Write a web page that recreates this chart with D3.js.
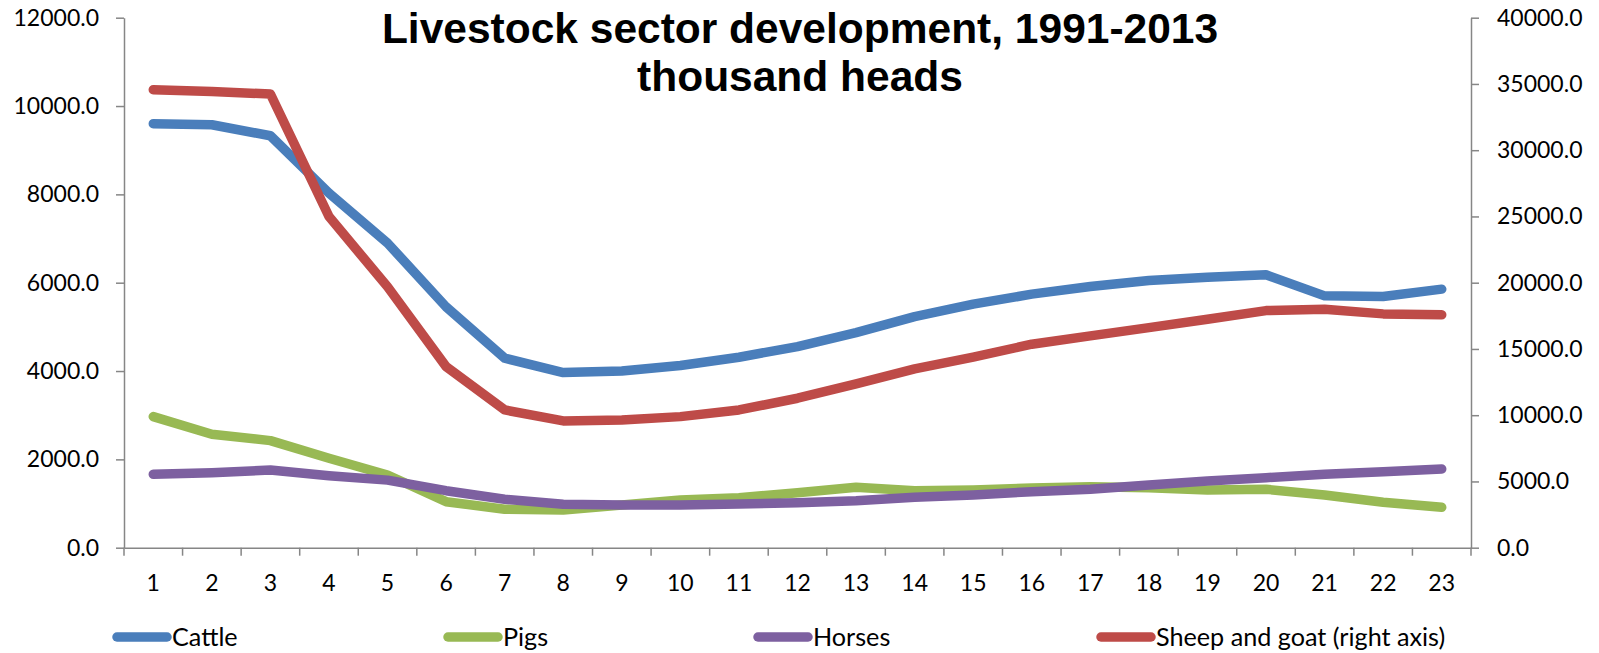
<!DOCTYPE html>
<html>
<head>
<meta charset="utf-8">
<script src="https://cdn.jsdelivr.net/npm/d3@7/dist/d3.min.js"></script>
<style>
  html, body { margin: 0; padding: 0; background: #fff; }
  svg { display: block; }
  .tick text, .legend text { font-family: Lato, "Open Sans", sans-serif; fill: #000; }
</style>
</head>
<body>
<svg id="chart" width="1599" height="653"></svg>
<script>
// Year index 1..23 (1991-2013)
const categories = d3.range(1, 24).map(String);

// Livestock numbers, thousand heads
const cattle = [9599, 9576, 9327, 8029, 6896, 5453, 4291, 3965, 4003, 4124, 4313, 4554,
                4871, 5233, 5514, 5741, 5913, 6049, 6126, 6178, 5702, 5687, 5854];
const pigs = [2968, 2569, 2424, 2025, 1647, 1042, 870, 854, 967, 1081, 1133, 1246,
              1368, 1291, 1307, 1352, 1382, 1359, 1307, 1323, 1194, 1028, 915];
const horses = [1663, 1699, 1760, 1631, 1530, 1291, 1096, 983, 967, 967, 990, 1020,
                1065, 1142, 1194, 1269, 1323, 1420, 1511, 1586, 1663, 1722, 1783];
const sheepGoat = [34562, 34433, 34237, 24995, 19690, 13668, 10398, 9567, 9643, 9892, 10398, 11281,
                   12361, 13494, 14377, 15359, 15986, 16613, 17246, 17896, 18002, 17647, 17572];

const seriesNames = ["Cattle", "Pigs", "Horses", "Sheep and goat (right axis)"];
const seriesColors = ["#4A7EBB", "#98B954", "#7D60A0", "#BE4B48"];

const leftTicks = [0, 2000, 4000, 6000, 8000, 10000, 12000];
const rightTicks = [0, 5000, 10000, 15000, 20000, 25000, 30000, 35000, 40000];

const svg = d3.select("#chart");
const plot = { left: 124, right: 1471, top: 17.7, bottom: 547.7 };

const x = d3.scaleBand().domain(categories).range([plot.left, plot.right]).padding(0);
const yL = d3.scaleLinear().domain([0, 12000]).range([plot.bottom, plot.top]);
const yR = d3.scaleLinear().domain([0, 40000]).range([plot.bottom, plot.top]);
const fmt = d3.format(".1f");

function styleAxis(g) {
  g.selectAll(".domain, .tick line").attr("stroke", "#868686").attr("stroke-width", 1.5);
  g.selectAll(".tick text").attr("font-size", 23);
}

// Left axis
svg.append("g")
  .attr("transform", `translate(${plot.left},0)`)
  .call(d3.axisLeft(yL).tickValues(leftTicks).tickFormat(fmt).tickSizeInner(8).tickSizeOuter(0).tickPadding(17))
  .call(styleAxis);

// Right axis
svg.append("g")
  .attr("transform", `translate(${plot.right},0)`)
  .call(d3.axisRight(yR).tickValues(rightTicks).tickFormat(fmt).tickSizeInner(8).tickSizeOuter(0).tickPadding(18))
  .call(styleAxis);

// Category axis: labels at band centres, tick marks on band boundaries
const xAxis = svg.append("g")
  .attr("transform", `translate(0,${plot.bottom})`)
  .call(d3.axisBottom(x).tickSize(0).tickPadding(27))
  .call(styleAxis);

const boundaries = categories.map(c => x(c)).concat([x(categories[categories.length - 1]) + x.bandwidth()]);
xAxis.selectAll("line.sep")
  .data(boundaries)
  .join("line")
  .attr("class", "sep")
  .attr("x1", d => d).attr("x2", d => d)
  .attr("y1", 0).attr("y2", 8)
  .attr("stroke", "#868686").attr("stroke-width", 1.5);

// Series lines
const cx = (d, i) => x(categories[i]) + x.bandwidth() / 2;
const series = [
  { values: cattle, y: yL },
  { values: pigs, y: yL },
  { values: horses, y: yL },
  { values: sheepGoat, y: yR }
];
series.forEach((s, k) => {
  const line = d3.line().x(cx).y(d => s.y(d));
  svg.append("path")
    .datum(s.values)
    .attr("d", line)
    .attr("fill", "none")
    .attr("stroke", seriesColors[k])
    .attr("stroke-width", 9.5)
    .attr("stroke-linejoin", "round")
    .attr("stroke-linecap", "round");
});

// Title
const title = svg.append("text")
  .attr("x", 800)
  .attr("text-anchor", "middle")
  .attr("font-family", "'Liberation Sans', Arial, sans-serif")
  .attr("font-weight", "bold")
  .attr("font-size", 42.5)
  .attr("fill", "#000");
title.append("tspan").attr("x", 800).attr("y", 43).text("Livestock sector development, 1991-2013");
title.append("tspan").attr("x", 800).attr("y", 91).text("thousand heads");

// Legend
const legendX = [117, 448, 758, 1101];
const legend = svg.append("g").attr("class", "legend");
seriesNames.forEach((name, k) => {
  const g = legend.append("g").attr("transform", `translate(${legendX[k]},637)`);
  g.append("line")
    .attr("x1", 0).attr("x2", 50).attr("y1", 0).attr("y2", 0)
    .attr("stroke", seriesColors[k]).attr("stroke-width", 9.5).attr("stroke-linecap", "round");
  g.append("text")
    .attr("x", 55).attr("y", 9)
    .attr("font-size", 25.2)
    .text(name);
});
</script>
</body>
</html>
